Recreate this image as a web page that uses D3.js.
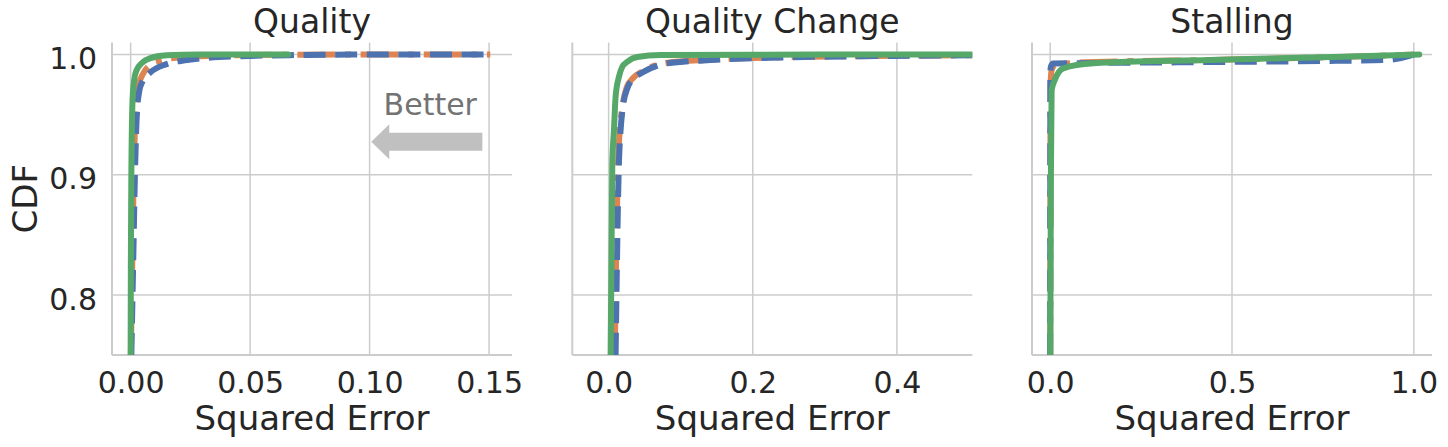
<!DOCTYPE html>
<html>
<head>
<meta charset="utf-8">
<script src="https://cdn.jsdelivr.net/npm/d3@7"></script>
<style>
  body { margin: 0; background: #fff; }
  text { font-family: "DejaVu Sans", sans-serif; fill: #262626; }
</style>
</head>
<body>
<div class="visArea"></div>
<script>
// Chart values
var panelTitles = ['Quality', 'Quality Change', 'Stalling'];
var xLimits = [[-0.0078, 0.1596], [-0.0504, 0.5046], [-0.05, 1.05]];
var xTicks = [[0, 0.05, 0.10, 0.15], [0, 0.2, 0.4], [0, 0.5, 1.0]];
var xTickFormats = ['.2f', '.1f', '.1f'];
var yLimits = [0.75, 1.01];
var yTicks = [0.8, 0.9, 1.0];
var xLabel = 'Squared Error';
var yLabel = 'CDF';

// CDF curves as [squared error, cdf] pairs
var qualityDashed = [[0.0003, 0.75], [0.0011, 0.83], [0.0018, 0.90], [0.0026, 0.95], [0.0037, 0.9704],
  [0.0046, 0.976], [0.008, 0.9846], [0.015, 0.992], [0.0235, 0.9954], [0.029, 0.9968], [0.05, 0.9988],
  [0.071, 0.9996], [0.1, 1.0], [0.15, 1.0]];
var qualityDashDot = [[0.0001, 0.75], [0.0007, 0.83], [0.0013, 0.90], [0.002, 0.95], [0.003, 0.972],
  [0.0052, 0.984], [0.008, 0.991], [0.0125, 0.995], [0.02, 0.9975], [0.035, 0.999], [0.06, 0.9998],
  [0.1, 1.0], [0.1505, 1.0]];
var qualitySolid = [[0.0, 0.75], [0.0001, 0.83], [0.0003, 0.90], [0.0008, 0.962], [0.0015, 0.979],
  [0.0025, 0.987], [0.0046, 0.9927], [0.008, 0.9968], [0.015, 0.9993], [0.029, 1.0], [0.066, 1.0]];

var changeDashed = [[0.0097, 0.75], [0.0143, 0.9096], [0.0166, 0.937], [0.0198, 0.9565], [0.026, 0.972],
  [0.0351, 0.980], [0.049, 0.9857], [0.0815, 0.9927], [0.1415, 0.9954], [0.257, 0.9977], [0.396, 0.9988],
  [0.504, 0.9993], [0.55, 0.9995]];
var changeDashDot = [[0.0085, 0.75], [0.013, 0.9096], [0.0155, 0.937], [0.019, 0.9565], [0.025, 0.9725],
  [0.034, 0.9805], [0.047, 0.986], [0.08, 0.993], [0.14, 0.9956], [0.25, 0.9978], [0.39, 0.9989],
  [0.5, 0.9994], [0.55, 0.9996]];
var changeSolid = [[0.0028, 0.75], [0.0051, 0.9096], [0.0074, 0.937], [0.0097, 0.965], [0.0143, 0.9815],
  [0.019, 0.9898], [0.026, 0.994], [0.0398, 0.998], [0.072, 0.9995], [0.3, 1.0], [0.55, 1.0]];

var stallingDashed = [[0.0, 0.75], [0.0005, 0.985], [0.002, 0.990], [0.008, 0.9925], [0.35, 0.9935],
  [0.8, 0.9948], [0.93, 0.9955], [0.99, 0.999], [1.0, 1.0]];
var stallingDashDot = [[0.0002, 0.75], [0.001, 0.975], [0.004, 0.987], [0.015, 0.9915], [0.1, 0.9935],
  [0.45, 0.9955], [0.8, 0.998], [1.0, 1.0]];
var stallingSolid = [[0.0003, 0.75], [0.002, 0.90], [0.004, 0.9704], [0.013, 0.979], [0.036, 0.9885],
  [0.1175, 0.9927], [0.438, 0.9954], [0.803, 0.9982], [1.015, 1.0]];

var panelSeries = [
  [qualityDashDot, qualityDashed, qualitySolid],
  [changeDashDot, changeDashed, changeSolid],
  [stallingDashDot, stallingDashed, stallingSolid]
];

// "Better" annotation in Quality panel data coords
var betterText = 'Better';
var betterTextAt = [0.1254, 0.9496];
var arrowFrom = [0.1472, 0.9275];
var arrowTo = [0.1007, 0.9275];

// Layout
var width = 1448;
var height = 447;
var panelLeft = [112, 572.3, 1032];
var panelWidth = 400;
var plotTop = 42.5;
var plotBottom = 355;
var gridColor = '#cccccc';

// dash-dot first, dashed on top, solid last
var seriesStyles = [
  {color: '#dd8452', dash: '38,9.6,6,9.6', cap: 'butt'},
  {color: '#4c72b0', dash: '22,9.6', cap: 'butt'},
  {color: '#55a868', dash: null, cap: 'round'}
];

var svg = d3.select('.visArea')
  .append('svg')
  .attr('width', width)
  .attr('height', height);

for (var i = 0; i < panelTitles.length; i++) {
  drawPanel(i);
}

function drawPanel(i) {
  var left = panelLeft[i];
  var right = left + panelWidth;

  var x = d3.scaleLinear().domain(xLimits[i]).range([left, right]);
  var y = d3.scaleLinear().domain(yLimits).range([plotBottom, plotTop]);

  var g = svg.append('g');

  // grid
  g.selectAll('.vgrid')
    .data(xTicks[i])
    .enter().append('line')
    .attr('x1', d => x(d)).attr('x2', d => x(d))
    .attr('y1', plotTop).attr('y2', plotBottom)
    .style('stroke', gridColor).style('stroke-width', 1.5);

  g.selectAll('.hgrid')
    .data(yTicks)
    .enter().append('line')
    .attr('x1', left).attr('x2', right)
    .attr('y1', d => y(d)).attr('y2', d => y(d))
    .style('stroke', gridColor).style('stroke-width', 1.5);

  // spines (left + bottom only)
  g.append('line')
    .attr('x1', left).attr('x2', left)
    .attr('y1', plotTop).attr('y2', plotBottom)
    .style('stroke', gridColor).style('stroke-width', 2);
  g.append('line')
    .attr('x1', left).attr('x2', right)
    .attr('y1', plotBottom).attr('y2', plotBottom)
    .style('stroke', gridColor).style('stroke-width', 2);

  // x tick labels
  var xAxis = d3.axisBottom(x)
    .tickValues(xTicks[i])
    .tickFormat(d3.format(xTickFormats[i]))
    .tickSize(0)
    .tickPadding(17);
  var xg = g.append('g')
    .attr('transform', 'translate(0,' + plotBottom + ')')
    .call(xAxis);
  xg.select('.domain').remove();
  xg.selectAll('text')
    .style('font-size', '30px')
    .style('font-family', '"DejaVu Sans", sans-serif')
    .attr('fill', '#262626');

  // y tick labels only on first panel
  if (i === 0) {
    var yAxis = d3.axisLeft(y)
      .tickValues(yTicks)
      .tickFormat(d3.format('.1f'))
      .tickSize(0)
      .tickPadding(15);
    var yg = g.append('g')
      .attr('transform', 'translate(' + left + ',0)')
      .call(yAxis);
    yg.select('.domain').remove();
    yg.selectAll('text')
      .attr('dy', '0.47em')
      .style('font-size', '30px')
      .style('font-family', '"DejaVu Sans", sans-serif')
      .attr('fill', '#262626');

    svg.append('text')
      .attr('transform', 'translate(37,' + ((plotTop + plotBottom) / 2) + ') rotate(-90)')
      .attr('text-anchor', 'middle')
      .style('font-size', '34px')
      .text(yLabel);
  }

  // title and x label
  g.append('text')
    .attr('x', (left + right) / 2)
    .attr('y', 33)
    .attr('text-anchor', 'middle')
    .style('font-size', '33px')
    .text(panelTitles[i]);

  g.append('text')
    .attr('x', (left + right) / 2)
    .attr('y', 430)
    .attr('text-anchor', 'middle')
    .style('font-size', '34px')
    .text(xLabel);

  // curves, clipped to the plot box
  var clipId = 'clip' + i;
  svg.append('clipPath')
    .attr('id', clipId)
    .append('rect')
    .attr('x', left).attr('y', plotTop)
    .attr('width', panelWidth).attr('height', plotBottom - plotTop);

  var line = d3.line()
    .x(d => x(d[0]))
    .y(d => y(d[1]))
    .curve(d3.curveMonotoneX);

  var lines = g.append('g').attr('clip-path', 'url(#' + clipId + ')');
  panelSeries[i].forEach(function(series, k) {
    var st = seriesStyles[k];
    lines.append('path')
      .datum(series)
      .attr('d', line)
      .style('fill', 'none')
      .style('stroke', st.color)
      .style('stroke-width', 6)
      .style('stroke-linecap', st.cap)
      .style('stroke-linejoin', 'round')
      .style('stroke-dasharray', st.dash);
  });

  if (i === 0) {
    drawBetterArrow(g, x, y);
  }
}

function drawBetterArrow(g, x, y) {
  var tipX = x(arrowTo[0]);
  var tailX = x(arrowFrom[0]);
  var cy = y(arrowFrom[1]);
  var shaft = 9, head = 17.5, headLen = 18;

  var pts = [
    [tailX, cy - shaft], [tipX + headLen, cy - shaft], [tipX + headLen, cy - head],
    [tipX, cy], [tipX + headLen, cy + head], [tipX + headLen, cy + shaft], [tailX, cy + shaft]
  ];
  g.append('polygon')
    .attr('points', pts.map(p => p.join(',')).join(' '))
    .style('fill', '#c0c0c0');

  g.append('text')
    .attr('x', x(betterTextAt[0]))
    .attr('y', y(betterTextAt[1]))
    .attr('text-anchor', 'middle')
    .style('font-size', '30px')
    .style('fill', '#737373')
    .text(betterText);
}
</script>
</body>
</html>
